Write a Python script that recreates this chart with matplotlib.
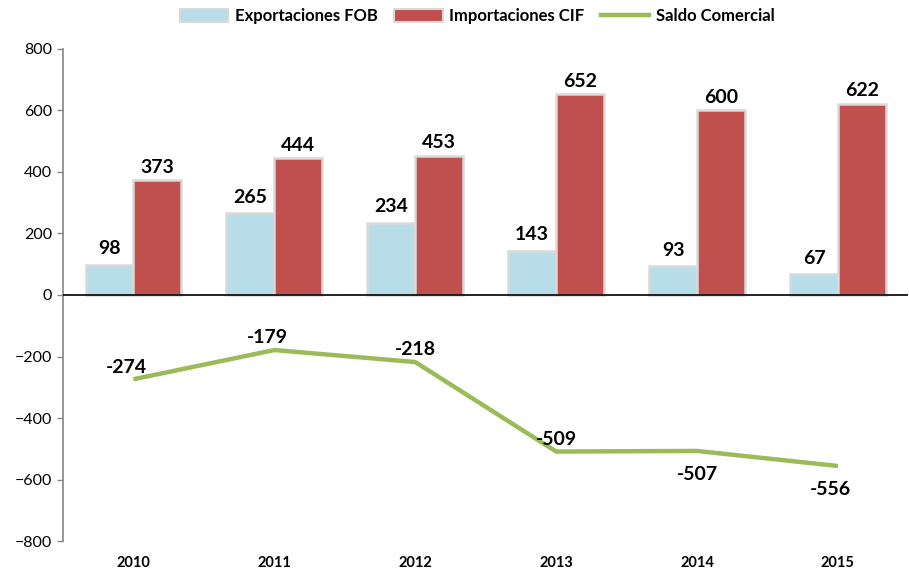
import matplotlib
matplotlib.use("Agg")
import matplotlib.pyplot as plt
import numpy as np
from matplotlib.patches import Patch
from matplotlib.lines import Line2D

plt.rcParams['font.family'] = ['Lato', 'DejaVu Sans']

years = ['2010', '2011', '2012', '2013', '2014', '2015']
exportaciones = [98, 265, 234, 143, 93, 67]
importaciones = [373, 444, 453, 652, 600, 622]
saldo = [-274, -179, -218, -509, -507, -556]

c_exp = '#b7dde8'
c_imp = '#c0504d'
c_sal = '#9bbb59'
c_edge = '#d9d9d9'

fig = plt.figure(figsize=(9.09, 5.75), dpi=100)
ax = fig.add_axes([0.0693, 0.059, 0.93, 0.856])

x = np.arange(len(years))
w = 0.34
ax.bar(x - w/2, exportaciones, w, color=c_exp, edgecolor=c_edge, linewidth=1.8, zorder=2)
ax.bar(x + w/2, importaciones, w, color=c_imp, edgecolor=c_edge, linewidth=1.8, zorder=2)
ax.plot(x, saldo, color=c_sal, linewidth=3.2, zorder=3, solid_capstyle='butt')

lab_kw = dict(fontsize=14, fontweight='bold', ha='center', color='black')
for i in range(len(years)):
    ax.text(x[i] - w/2, exportaciones[i] + 25, str(exportaciones[i]), va='bottom', **lab_kw)
    ax.text(x[i] + w/2, importaciones[i] + 15, str(importaciones[i]), va='bottom', **lab_kw)

offsets = [(-0.05, 12), (-0.05, 12), (0.0, 12), (0.0, 12), (0.0, -50), (-0.05, -50)]
for i, (dx, dy) in enumerate(offsets):
    ax.text(x[i] + dx, saldo[i] + dy, str(saldo[i]),
            va='bottom' if dy > 0 else 'top', **lab_kw)

ax.set_xlim(-0.5, len(years) - 0.5)
ax.set_ylim(-800, 800)
ax.set_yticks(np.arange(-800, 801, 200))
ax.tick_params(axis='y', labelsize=11.5, length=4, color='#868686', width=1, pad=4)
ax.set_xticks(x)
ax.set_xticklabels(years, fontsize=10.5, fontweight='bold')
ax.tick_params(axis='x', length=0, pad=11)
for s in ['top', 'right', 'bottom']:
    ax.spines[s].set_visible(False)
ax.spines['left'].set_color('#868686')
ax.spines['left'].set_linewidth(1.2)
ax.axhline(0, color='black', linewidth=1.2, zorder=4)

handles = [Patch(facecolor=c_exp, edgecolor=c_edge, linewidth=1.5),
           Patch(facecolor=c_imp, edgecolor=c_edge, linewidth=1.5),
           Line2D([0], [0], color=c_sal, linewidth=3.2)]
labels = ['Exportaciones FOB', 'Importaciones CIF', 'Saldo Comercial']
fig.legend(handles, labels, loc='upper center', bbox_to_anchor=(0.525, 1.012), ncol=3,
           frameon=False, prop={'weight': 'bold', 'size': 12},
           handlelength=2.9, handleheight=0.8, columnspacing=1.0, handletextpad=0.4)

fig.savefig('out.png', dpi=100)
